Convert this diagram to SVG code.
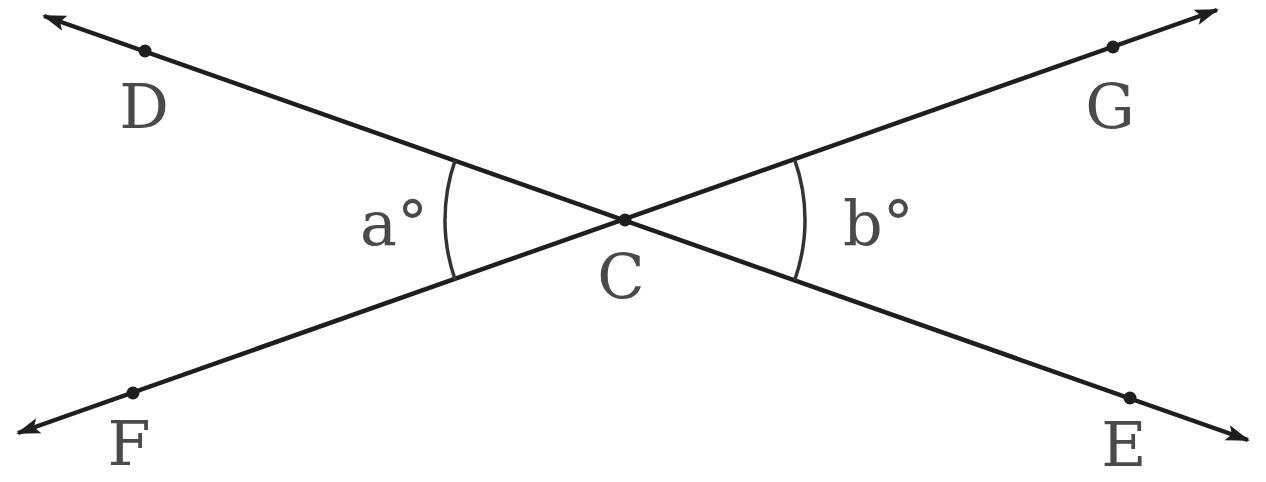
<svg xmlns="http://www.w3.org/2000/svg" width="1266" height="482" viewBox="0 0 1266 482">
<style>
.ln{stroke:#1e1e1e;stroke-width:4.5;fill:none}
.arc{stroke:#333;stroke-width:3.5;fill:none}
.pt{fill:#1e1e1e}
.lbl{font-family:"DejaVu Serif","Liberation Serif",serif;font-size:62px;fill:#4a4a4a;text-anchor:middle}
.ang{font-family:"DejaVu Serif","Liberation Serif",serif;font-size:62px;fill:#4a4a4a}
</style>
<defs>
<marker id="arr" markerUnits="userSpaceOnUse" markerWidth="26" markerHeight="20" refX="22" refY="9" orient="auto-start-reverse" viewBox="0 0 26 18">
<path d="M0,1 L24,9 L0,17 L5,9 Z" fill="#1e1e1e"/>
</marker>
</defs>
<rect width="1266" height="482" fill="#fff"/>
<g id="connectors">
<line id="DE" class="ln" x1="44" y1="16" x2="1248" y2="440" marker-start="url(#arr)" marker-end="url(#arr)"/>
<line id="FG" class="ln" x1="18" y1="433" x2="1217" y2="10" marker-start="url(#arr)" marker-end="url(#arr)"/>
</g>
<g id="angle-a">
<path class="arc" d="M455.2,160.2 A180,180 0 0 0 455.2,279.8"/>
<text class="ang" x="360" y="245">a°</text>
</g>
<g id="angle-b">
<path class="arc" d="M794.8,160.2 A180,180 0 0 1 794.8,279.8"/>
<text class="ang" x="843" y="245">b°</text>
</g>
<g id="node-C">
<circle class="pt" cx="625" cy="220" r="6.5"/>
<text class="lbl" x="621" y="298">C</text>
</g>
<g id="node-D">
<circle class="pt" cx="145" cy="51" r="6.5"/>
<text class="lbl" x="144" y="128">D</text>
</g>
<g id="node-E">
<circle class="pt" cx="1130" cy="398" r="6.5"/>
<text class="lbl" x="1124" y="466">E</text>
</g>
<g id="node-F">
<circle class="pt" cx="133" cy="393" r="6.5"/>
<text class="lbl" x="129" y="465">F</text>
</g>
<g id="node-G">
<circle class="pt" cx="1113" cy="47" r="6.5"/>
<text class="lbl" x="1110" y="128">G</text>
</g>
</svg>
